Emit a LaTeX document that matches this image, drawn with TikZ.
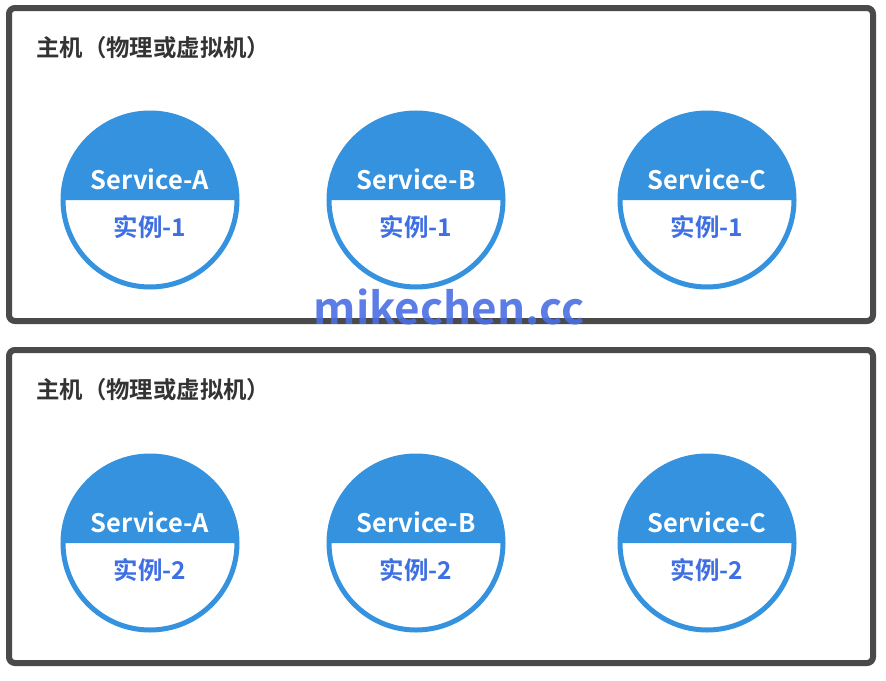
\documentclass[tikz,border=0pt]{standalone}
\usepackage{fontspec}
\setmainfont{Noto Sans CJK SC}[BoldFont={* Bold}]
\newfontfamily\cjkb{Noto Sans CJK SC Bold}
\definecolor{boxgray}{HTML}{4A4A4A}
\definecolor{svcblue}{HTML}{3492DE}
\definecolor{instblue}{HTML}{3E6FE3}
\definecolor{wmblue}{HTML}{4A6FE3}
\definecolor{titlegray}{HTML}{333333}
\tikzset{
  hostbox/.style={draw=boxgray, line width=6pt, rounded corners=6pt, fill=white},
  hosttitle/.style={anchor=west, inner sep=0pt, text=titlegray, font=\cjkb\fontsize{23.4}{26}\selectfont},
  svctext/.style={inner sep=0pt, text=white, font=\cjkb\fontsize{25.5}{28}\selectfont},
  insttext/.style={inner sep=0pt, text=instblue, font=\cjkb\fontsize{24.5}{28}\selectfont},
  ring/.style={draw=svcblue, line width=5pt},
  wm/.style={inner sep=0pt, text=wmblue, text opacity=0.9, font=\cjkb\fontsize{44}{50}\selectfont}
}
\begin{document}
\begin{tikzpicture}[x=1pt,y=-1pt]
\useasboundingbox (0,0) rectangle (886,680);
\fill[white] (0,0) rectangle (886,680);
% boxes
\draw[hostbox] (9,8) rectangle (873,321);
\draw[hostbox] (9,350) rectangle (873,663);
\node[hosttitle] (t1) at (36,48) {主机（物理或虚拟机）};
\node[hosttitle] (t2) at (36,390) {主机（物理或虚拟机）};
% circles
\foreach \n/\x in {A/150,B/416,C/707}{
  \fill[svcblue] (\x-87,200) arc[start angle=180, end angle=360, radius=87] -- cycle;
  \draw[ring] (\x,200) circle[radius=87];
  \node[svctext] (s\n1) at (\x,179) {Service-\n};
  \node[insttext] (i\n1) at (\x,227) {实例-1};
  \fill[svcblue] (\x-87,543) arc[start angle=180, end angle=360, radius=87] -- cycle;
  \draw[ring] (\x,543) circle[radius=87];
  \node[svctext] (s\n2) at (\x,522) {Service-\n};
  \node[insttext] (i\n2) at (\x,570) {实例-2};
}
\node[wm] (wm) at (449,307) {mikechen.cc};
\end{tikzpicture}
\end{document}
